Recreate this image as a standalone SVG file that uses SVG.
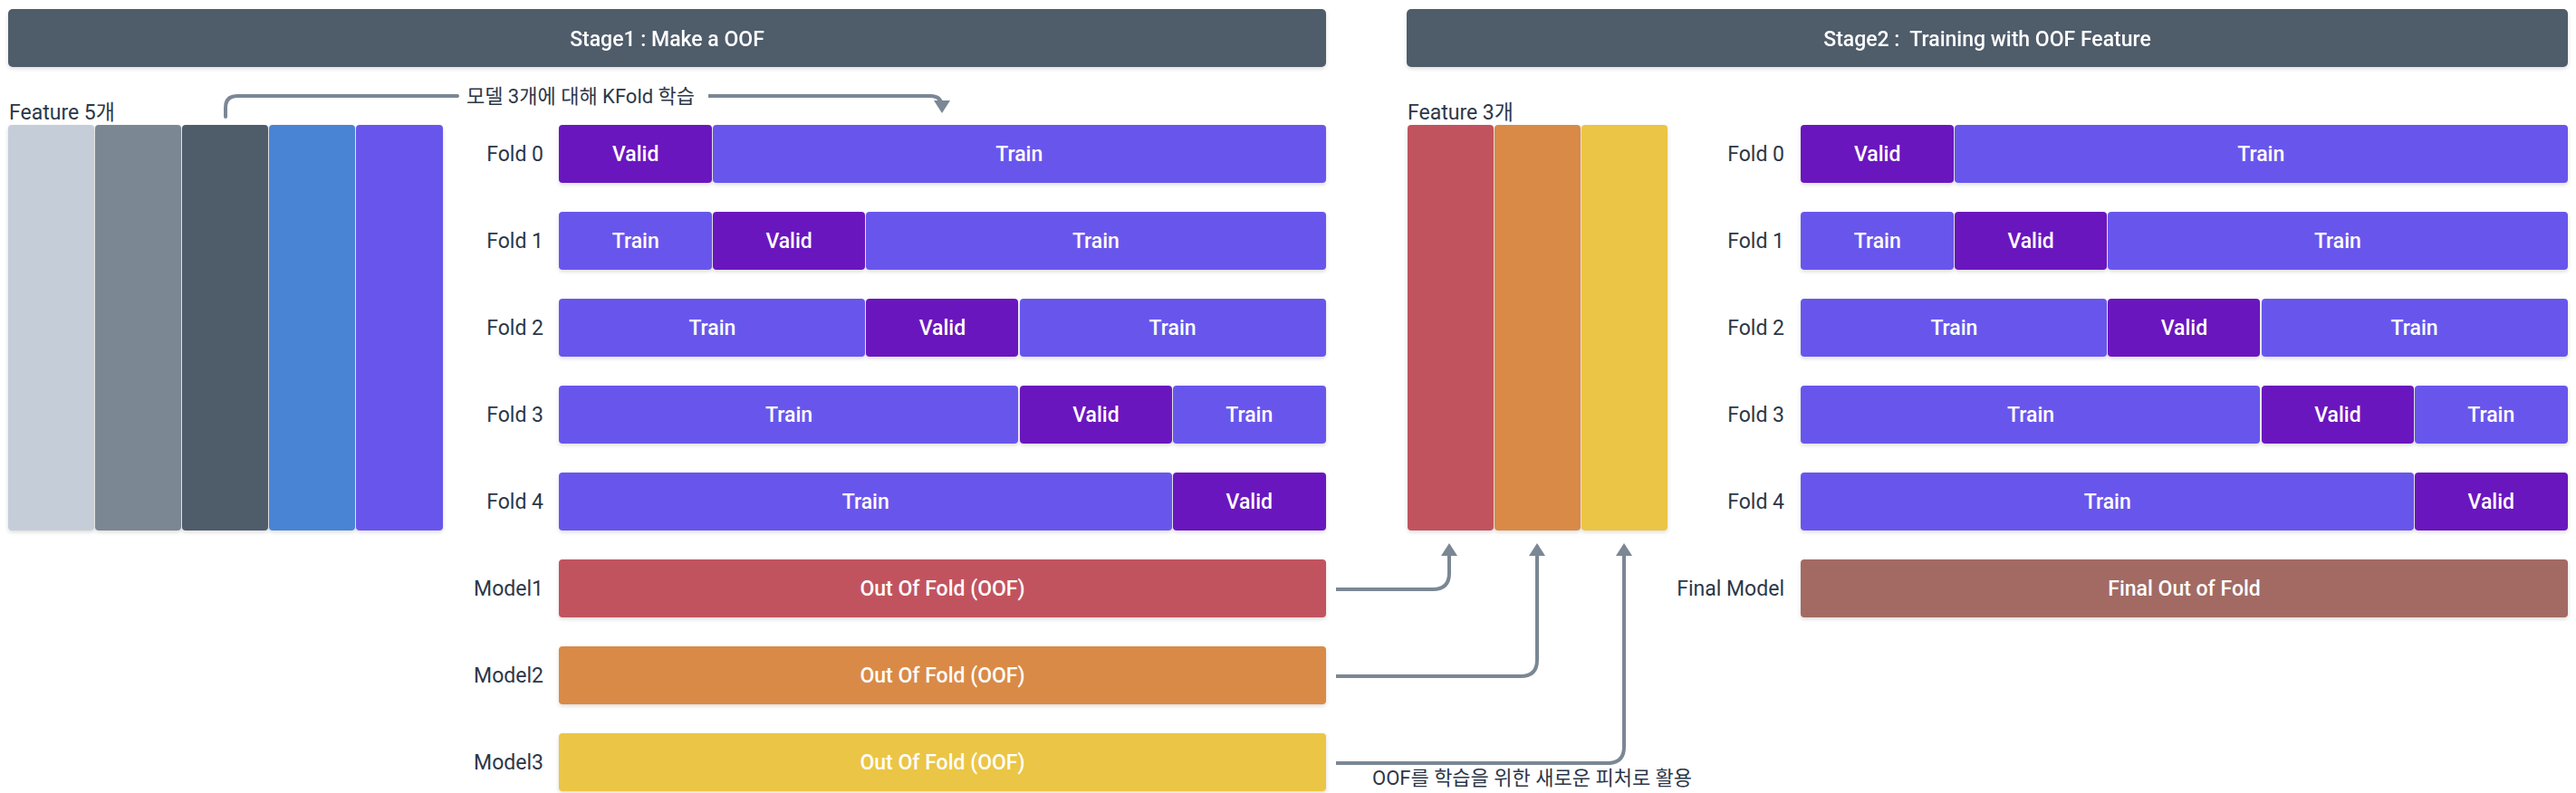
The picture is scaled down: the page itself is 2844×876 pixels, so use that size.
<svg xmlns="http://www.w3.org/2000/svg" width="2844" height="876" viewBox="0 0 2844 876">
<style>
  text { font-family: Roboto, "Noto Sans", "Noto Sans CJK KR", sans-serif; }
  .hdr { fill: #4f5b6b; }
  .htxt { fill: #ffffff; font-size: 23px; font-weight: 500; text-anchor: middle; white-space: pre; }
  .lbl { fill: #2d3748; font-size: 23px; }
  .rl { fill: #2d3748; font-size: 23px; text-anchor: end; }
  .btxt { fill: #ffffff; font-size: 23px; font-weight: 500; text-anchor: middle; }
  .tr { fill: #6757ec; }
  .va { fill: #6a19be; }
  .m1 { fill: #c1535e; }
  .m2 { fill: #d98a47; }
  .m3 { fill: #ebc545; }
  .fin { fill: #a26a64; }
  .conn { fill: none; stroke: #7b8794; stroke-width: 4; }
  .note { fill: #2d3748; font-size: 22px; }
</style>
<defs>
  <filter id="sh" x="-5%" y="-20%" width="110%" height="150%">
    <feDropShadow dx="0" dy="2" stdDeviation="2" flood-color="#000" flood-opacity="0.14"/>
  </filter>
  <marker id="ah" markerUnits="userSpaceOnUse" markerWidth="14" markerHeight="18" viewBox="0 0 14 18" refX="10" refY="9" orient="auto">
    <path d="M0,0 L14,9 L0,18 z" fill="#7b8794"/>
  </marker>
</defs>
<rect width="2844" height="876" fill="#ffffff"/>

<g id="stage1-header" filter="url(#sh)">
  <rect class="hdr" x="9" y="10" width="1455" height="64" rx="5"/>
  <text class="htxt" x="736.5" y="51">Stage1 : Make a OOF</text>
</g>
<g id="stage2-header" filter="url(#sh)">
  <rect class="hdr" x="1553" y="10" width="1282" height="64" rx="5"/>
  <text class="htxt" x="2194" y="51">Stage2 :  Training with OOF Feature</text>
</g>

<g id="features5">
  <text class="lbl" x="10" y="132">Feature 5개</text>
  <g filter="url(#sh)">
    <rect x="9" y="138" width="95" height="448" rx="4" fill="#c5cdd9"/>
    <rect x="105" y="138" width="95" height="448" rx="4" fill="#7b8794"/>
    <rect x="201" y="138" width="95" height="448" rx="4" fill="#4f5b6b"/>
    <rect x="297" y="138" width="95" height="448" rx="4" fill="#4a84d4"/>
    <rect x="393" y="138" width="96" height="448" rx="4" fill="#6757ec"/>
  </g>
</g>

<g id="stage1-folds">
  <g id="s1-fold0">
    <text class="rl" x="600" y="178">Fold 0</text>
    <g filter="url(#sh)">
      <rect class="va" x="617" y="138" width="169" height="64" rx="4"/>
      <rect class="tr" x="787" y="138" width="677" height="64" rx="4"/>
    </g>
    <text class="btxt" x="701.7" y="178">Valid</text>
    <text class="btxt" x="1125.2" y="178">Train</text>
  </g>
  <g id="s1-fold1">
    <text class="rl" x="600" y="274">Fold 1</text>
    <g filter="url(#sh)">
      <rect class="tr" x="617" y="234" width="169" height="64" rx="4"/>
      <rect class="va" x="787" y="234" width="168" height="64" rx="4"/>
      <rect class="tr" x="956" y="234" width="508" height="64" rx="4"/>
    </g>
    <text class="btxt" x="701.7" y="274">Train</text>
    <text class="btxt" x="871.1" y="274">Valid</text>
    <text class="btxt" x="1209.9" y="274">Train</text>
  </g>
  <g id="s1-fold2">
    <text class="rl" x="600" y="370">Fold 2</text>
    <g filter="url(#sh)">
      <rect class="tr" x="617" y="330" width="338" height="64" rx="4"/>
      <rect class="va" x="956" y="330" width="168" height="64" rx="4"/>
      <rect class="tr" x="1126" y="330" width="338" height="64" rx="4"/>
    </g>
    <text class="btxt" x="786.4" y="370">Train</text>
    <text class="btxt" x="1040.5" y="370">Valid</text>
    <text class="btxt" x="1294.6" y="370">Train</text>
  </g>
  <g id="s1-fold3">
    <text class="rl" x="600" y="466">Fold 3</text>
    <g filter="url(#sh)">
      <rect class="tr" x="617" y="426" width="507" height="64" rx="4"/>
      <rect class="va" x="1126" y="426" width="168" height="64" rx="4"/>
      <rect class="tr" x="1295" y="426" width="169" height="64" rx="4"/>
    </g>
    <text class="btxt" x="871.1" y="466">Train</text>
    <text class="btxt" x="1209.9" y="466">Valid</text>
    <text class="btxt" x="1379.3" y="466">Train</text>
  </g>
  <g id="s1-fold4">
    <text class="rl" x="600" y="562">Fold 4</text>
    <g filter="url(#sh)">
      <rect class="tr" x="617" y="522" width="677" height="64" rx="4"/>
      <rect class="va" x="1295" y="522" width="169" height="64" rx="4"/>
    </g>
    <text class="btxt" x="955.8" y="562">Train</text>
    <text class="btxt" x="1379.3" y="562">Valid</text>
  </g>
</g>

<g id="model1">
  <text class="rl" x="600" y="658">Model1</text>
  <rect class="m1" x="617" y="618" width="847" height="64" rx="4" filter="url(#sh)"/>
  <text class="btxt" x="1040.5" y="658">Out Of Fold (OOF)</text>
</g>
<g id="model2">
  <text class="rl" x="600" y="754">Model2</text>
  <rect class="m2" x="617" y="714" width="847" height="64" rx="4" filter="url(#sh)"/>
  <text class="btxt" x="1040.5" y="754">Out Of Fold (OOF)</text>
</g>
<g id="model3">
  <text class="rl" x="600" y="850">Model3</text>
  <rect class="m3" x="617" y="810" width="847" height="64" rx="4" filter="url(#sh)"/>
  <text class="btxt" x="1040.5" y="850">Out Of Fold (OOF)</text>
</g>

<g id="features3">
  <text class="lbl" x="1554" y="132">Feature 3개</text>
  <g filter="url(#sh)">
    <rect class="m1" x="1554" y="138" width="95" height="448" rx="4"/>
    <rect class="m2" x="1650" y="138" width="95" height="448" rx="4"/>
    <rect class="m3" x="1746" y="138" width="95" height="448" rx="4"/>
  </g>
</g>

<g id="stage2-folds">
  <g id="s2-fold0">
    <text class="rl" x="1970" y="178">Fold 0</text>
    <g filter="url(#sh)">
      <rect class="va" x="1988" y="138" width="169" height="64" rx="4"/>
      <rect class="tr" x="2158" y="138" width="677" height="64" rx="4"/>
    </g>
    <text class="btxt" x="2072.7" y="178">Valid</text>
    <text class="btxt" x="2496.2" y="178">Train</text>
  </g>
  <g id="s2-fold1">
    <text class="rl" x="1970" y="274">Fold 1</text>
    <g filter="url(#sh)">
      <rect class="tr" x="1988" y="234" width="169" height="64" rx="4"/>
      <rect class="va" x="2158" y="234" width="168" height="64" rx="4"/>
      <rect class="tr" x="2327" y="234" width="508" height="64" rx="4"/>
    </g>
    <text class="btxt" x="2072.7" y="274">Train</text>
    <text class="btxt" x="2242.1" y="274">Valid</text>
    <text class="btxt" x="2580.9" y="274">Train</text>
  </g>
  <g id="s2-fold2">
    <text class="rl" x="1970" y="370">Fold 2</text>
    <g filter="url(#sh)">
      <rect class="tr" x="1988" y="330" width="338" height="64" rx="4"/>
      <rect class="va" x="2327" y="330" width="168" height="64" rx="4"/>
      <rect class="tr" x="2497" y="330" width="338" height="64" rx="4"/>
    </g>
    <text class="btxt" x="2157.4" y="370">Train</text>
    <text class="btxt" x="2411.5" y="370">Valid</text>
    <text class="btxt" x="2665.6" y="370">Train</text>
  </g>
  <g id="s2-fold3">
    <text class="rl" x="1970" y="466">Fold 3</text>
    <g filter="url(#sh)">
      <rect class="tr" x="1988" y="426" width="507" height="64" rx="4"/>
      <rect class="va" x="2497" y="426" width="168" height="64" rx="4"/>
      <rect class="tr" x="2666" y="426" width="169" height="64" rx="4"/>
    </g>
    <text class="btxt" x="2242.1" y="466">Train</text>
    <text class="btxt" x="2580.9" y="466">Valid</text>
    <text class="btxt" x="2750.3" y="466">Train</text>
  </g>
  <g id="s2-fold4">
    <text class="rl" x="1970" y="562">Fold 4</text>
    <g filter="url(#sh)">
      <rect class="tr" x="1988" y="522" width="677" height="64" rx="4"/>
      <rect class="va" x="2666" y="522" width="169" height="64" rx="4"/>
    </g>
    <text class="btxt" x="2326.8" y="562">Train</text>
    <text class="btxt" x="2750.3" y="562">Valid</text>
  </g>
</g>

<g id="final-model">
  <text class="rl" x="1970" y="658">Final Model</text>
  <rect class="fin" x="1988" y="618" width="847" height="64" rx="4" filter="url(#sh)"/>
  <text class="btxt" x="2411.5" y="658">Final Out of Fold</text>
</g>

<g id="connectors">
  <path class="conn" d="M249,129 V119 Q249,106 262,106 H505" stroke-linecap="round"/>
  <text class="note" x="641" y="114" text-anchor="middle">모델 3개에 대해 KFold 학습</text>
  <path class="conn" d="M782,106 H1027 Q1040,106 1040,119 V121" marker-end="url(#ah)"/>
  <path class="conn" d="M1475,651 H1582 Q1600,651 1600,633 V604" marker-end="url(#ah)"/>
  <path class="conn" d="M1475,747 H1679 Q1697,747 1697,729 V604" marker-end="url(#ah)"/>
  <path class="conn" d="M1475,843 H1775 Q1793,843 1793,825 V604" marker-end="url(#ah)"/>
  <text class="note" x="1515" y="867">OOF를 학습을 위한 새로운 피처로 활용</text>
</g>
</svg>
